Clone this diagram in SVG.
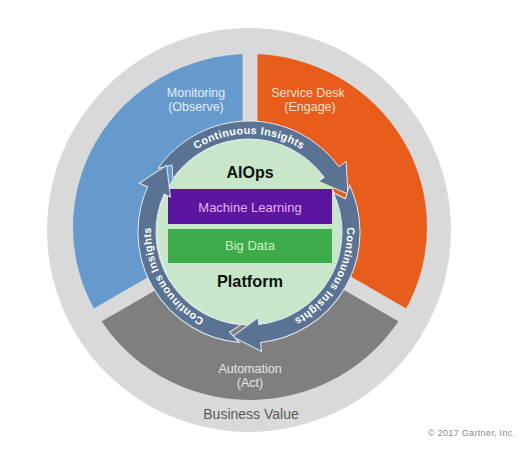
<svg xmlns="http://www.w3.org/2000/svg" xmlns:xlink="http://www.w3.org/1999/xlink" width="532" height="449" viewBox="0 0 532 449">
<style>
.seg-label{font-family:"Liberation Sans",Arial,sans-serif;font-size:12.5px;text-anchor:middle}
.core{font-family:"Liberation Sans",Arial,sans-serif;font-weight:bold;font-size:16px;text-anchor:middle;fill:#111}
.box-label{font-family:"Liberation Sans",Arial,sans-serif;font-size:13px;text-anchor:middle}
.ring-label{font-family:"Liberation Sans",Arial,sans-serif;font-weight:bold;font-size:10.8px;letter-spacing:0.4px;fill:#ffffff;text-anchor:middle}
.gap{fill:#d9d9d9}
.arrow{fill:#5b7393;stroke:#e3eaf1;stroke-width:1}
</style>
<defs>
<path id="ringPath" d="M249,330 A98,98 0 1,1 249,134 A98,98 0 1,1 249,330"/>
<path id="arrowShape" class="arrow" d="M158.07,168.33 A111,111 0 0,1 338.80,166.76 L346.08,161.47 L347.96,194.01 L318.58,181.45 L324.24,177.34 A93,93 0 0,0 172.82,178.66 L172.02,165.08 Z"/>
</defs>
<rect width="532" height="449" fill="#ffffff"/>
<g id="business-value">
<circle cx="249" cy="230" r="202" fill="#d9d9d9"/>
<text class="seg-label" x="251" y="419" style="font-size:14px;fill:#595959">Business Value</text>
</g>
<g id="monitoring">
<path d="M250,227 L250,54 A177,173 0 0,0 96.71,313.5 Z" fill="#6699cc"/>
<text class="seg-label" x="196" y="97" fill="#e4edf7">Monitoring</text>
<text class="seg-label" x="196" y="111" fill="#e4edf7">(Observe)</text>
</g>
<g id="service-desk">
<path d="M250,227 L250,54 A177,173 0 0,1 403.29,313.5 Z" fill="#e85c1c"/>
<text class="seg-label" x="308" y="97" fill="#fde0cc">Service Desk</text>
<text class="seg-label" x="310" y="111" fill="#fde0cc">(Engage)</text>
</g>
<g id="automation">
<path d="M250,227 L96.71,313.5 A177,173 0 0,0 403.29,313.5 Z" fill="#7f7f7f"/>
<text class="seg-label" x="250" y="373" fill="#e6e6e6">Automation</text>
<text class="seg-label" x="250" y="387" fill="#e6e6e6">(Act)</text>
</g>
<g id="gaps">
<rect class="gap" x="242.5" y="40" width="15" height="190"/>
<rect class="gap" x="242.5" y="40" width="15" height="190" transform="rotate(120 250 227)"/>
<rect class="gap" x="242.5" y="40" width="15" height="190" transform="rotate(240 250 227)"/>
</g>
<g id="aiops-platform">
<circle cx="250" cy="232" r="93" fill="#c8e6c9" stroke="#eef5ee" stroke-width="1"/>
<text class="core" x="250" y="178">AIOps</text>
<text class="core" x="250" y="287" style="font-size:16.3px">Platform</text>
</g>
<g id="machine-learning">
<rect x="168" y="189" width="164" height="35" fill="#5a169e"/>
<text class="box-label" x="250" y="211.5" fill="#e8aef2">Machine Learning</text>
</g>
<g id="big-data">
<rect x="168" y="229" width="164" height="34" fill="#3cab4a"/>
<text class="box-label" x="250" y="250" fill="#cdf2c4">Big Data</text>
</g>
<g id="connectors">
<use xlink:href="#arrowShape"/>
<use xlink:href="#arrowShape" transform="rotate(120 249 232)"/>
<use xlink:href="#arrowShape" transform="rotate(240 249 232)"/>
<text class="ring-label"><textPath xlink:href="#ringPath" startOffset="50%">Continuous Insights</textPath></text>
<text class="ring-label"><textPath xlink:href="#ringPath" startOffset="83.33%">Continuous Insights</textPath></text>
<text class="ring-label"><textPath xlink:href="#ringPath" startOffset="16.67%">Continuous Insights</textPath></text>
</g>
<text x="428" y="436" style="font-family:'Liberation Sans',Arial,sans-serif;font-size:9px;fill:#8a8a8a" textLength="87">© 2017 Gartner, Inc.</text>
</svg>
